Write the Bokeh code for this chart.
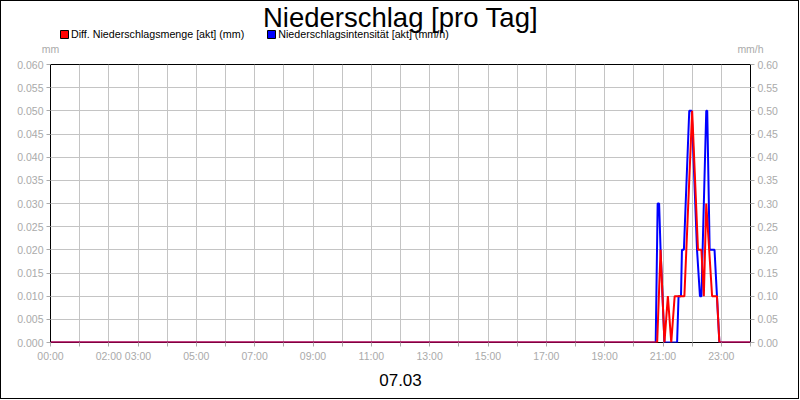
from bokeh.plotting import figure
from bokeh.layouts import column
from bokeh.models import (Range1d, LinearAxis, FixedTicker, PrintfTickFormatter,
                          Legend, LegendItem, Title, Label)
from bokeh.embed import file_html
from bokeh.resources import INLINE

# Diff. Niederschlagsmenge [akt] (mm)
menge_times = ["00:00", "20:48", "20:55", "21:03", "21:10", "21:17", "21:24",
               "21:44", "22:00", "22:12", "22:19", "22:24", "22:29", "22:41",
               "22:51", "22:56", "24:00"]
menge_values = [0, 0, 0.02, 0, 0.01, 0, 0.01, 0.01, 0.05, 0.02, 0.02, 0.01,
                0.03, 0.01, 0.01, 0, 0]

# Niederschlagsintensitaet [akt] (mm/h)
intens_times = ["00:00", "20:45", "20:49", "20:52", "20:55", "21:03", "21:29",
                "21:32", "21:37", "21:39", "21:43", "21:54", "21:59", "22:10",
                "22:16", "22:19", "22:29", "22:31", "22:36", "22:46", "22:51",
                "22:56", "24:00"]
intens_values = [0, 0, 0.3, 0.3, 0.2, 0, 0, 0.1, 0.1, 0.2, 0.2, 0.5, 0.5, 0.2,
                 0.1, 0.1, 0.5, 0.5, 0.2, 0.2, 0.1, 0, 0]

hour_ticks = list(range(0, 25))
labelled_hours = {0: "00:00", 2: "02:00", 3: "03:00", 5: "05:00", 7: "07:00",
                  9: "09:00", 11: "11:00", 13: "13:00", 15: "15:00",
                  17: "17:00", 19: "19:00", 21: "21:00", 23: "23:00"}
left_ticks = [round(i * 0.005, 3) for i in range(13)]
right_ticks = [round(i * 0.05, 2) for i in range(13)]

title_text = "Niederschlag [pro Tag]"
date_text = "07.03"
menge_label = "Diff. Niederschlagsmenge [akt] (mm)"
intens_label = "Niederschlagsintensität [akt] (mm/h)"
unit_labels = {0: "mm", 700: "mm/h"}

FONT = "Liberation Sans"
GRAY = "#aaaaaa"


def to_hours(t):
    h, m = t.split(":")
    return int(h) + int(m) / 60.0


# ---- header: title, legend, unit labels ----
head = figure(width=797, height=56, x_range=Range1d(0, 700), y_range=Range1d(0, 43),
              x_axis_type=None, y_axis_type=None, min_border=0, min_border_bottom=13,
              output_backend="svg", toolbar_location=None)
head.outline_line_color = None
head.background_fill_color = "white"
head.border_fill_color = "white"
head.grid.visible = False

head.add_layout(Label(x=350, y=23, x_units="screen", y_units="screen", text=title_text,
                      text_align="center", text_baseline="middle",
                      text_font=FONT, text_font_size="27.5px", text_color="black"))

unit_axis = LinearAxis(ticker=FixedTicker(ticks=list(unit_labels)),
                       major_label_overrides=unit_labels,
                       axis_line_color=None, major_tick_line_color=None,
                       minor_tick_line_color=None, major_tick_out=0,
                       major_label_standoff=2, major_label_text_color=GRAY,
                       major_label_text_font=FONT, major_label_text_font_size="10.5px")
head.add_layout(unit_axis, "below")

# legend swatches (zero-size, outside the visible range)
r_red = head.quad(left=[-10], right=[-10], top=[-10], bottom=[-10],
                  fill_color="#ff0000", line_color="black")
r_blue = head.quad(left=[-10], right=[-10], top=[-10], bottom=[-10],
                   fill_color="#0000ff", line_color="black")
legend = Legend(items=[LegendItem(label=menge_label, renderers=[r_red]),
                       LegendItem(label=intens_label, renderers=[r_blue])],
                orientation="horizontal", location=(9, 0),
                padding=0, margin=0, spacing=22,
                border_line_color=None, background_fill_alpha=0,
                glyph_width=10, glyph_height=10, label_standoff=2,
                label_height=10, label_width=10,
                label_text_color="black",
                label_text_font=FONT, label_text_font_size="10.7px")
head.add_layout(legend)

# ---- main chart ----
p = figure(width=797, height=341, x_range=Range1d(0, 24), y_range=Range1d(0, 0.06),
           output_backend="svg", toolbar_location=None,
           min_border_left=49, min_border_right=48,
           min_border_top=7, min_border_bottom=56)
p.background_fill_color = "white"
p.border_fill_color = "white"
p.outline_line_color = "black"
p.outline_line_width = 1
p.extra_y_ranges = {"intens": Range1d(0, 0.6)}

p.xaxis.ticker = FixedTicker(ticks=hour_ticks)
p.xaxis.major_label_overrides = {h: labelled_hours.get(h, "") for h in hour_ticks}
p.yaxis.ticker = FixedTicker(ticks=left_ticks)
p.yaxis.formatter = PrintfTickFormatter(format="%.3f")

right_axis = LinearAxis(y_range_name="intens", ticker=FixedTicker(ticks=right_ticks),
                        formatter=PrintfTickFormatter(format="%.2f"))
p.add_layout(right_axis, "right")

for ax in p.axis:
    ax.axis_line_color = None
    ax.major_tick_line_color = GRAY
    ax.major_tick_out = 4
    ax.major_tick_in = 0
    ax.minor_tick_line_color = None
    ax.major_label_text_color = GRAY
    ax.major_label_text_font = FONT
    ax.major_label_text_font_size = "10.5px"
    ax.major_label_standoff = 3

p.xgrid.grid_line_color = "#c4c4c4"
p.ygrid.grid_line_color = "#c4c4c4"

p.line([to_hours(t) for t in intens_times], intens_values, y_range_name="intens",
       line_color="#0000ff", line_width=2)
p.line([to_hours(t) for t in menge_times], menge_values,
       line_color="#ff0000", line_width=2)

p.add_layout(Title(text=date_text, align="center", text_font=FONT, text_color="black",
                   text_font_size="17px", text_font_style="normal", standoff=14),
             "below")

layout = column(head, p, spacing=0, styles={"border": "1px solid black"})

open("out.html", "w").write(file_html(layout, INLINE))
